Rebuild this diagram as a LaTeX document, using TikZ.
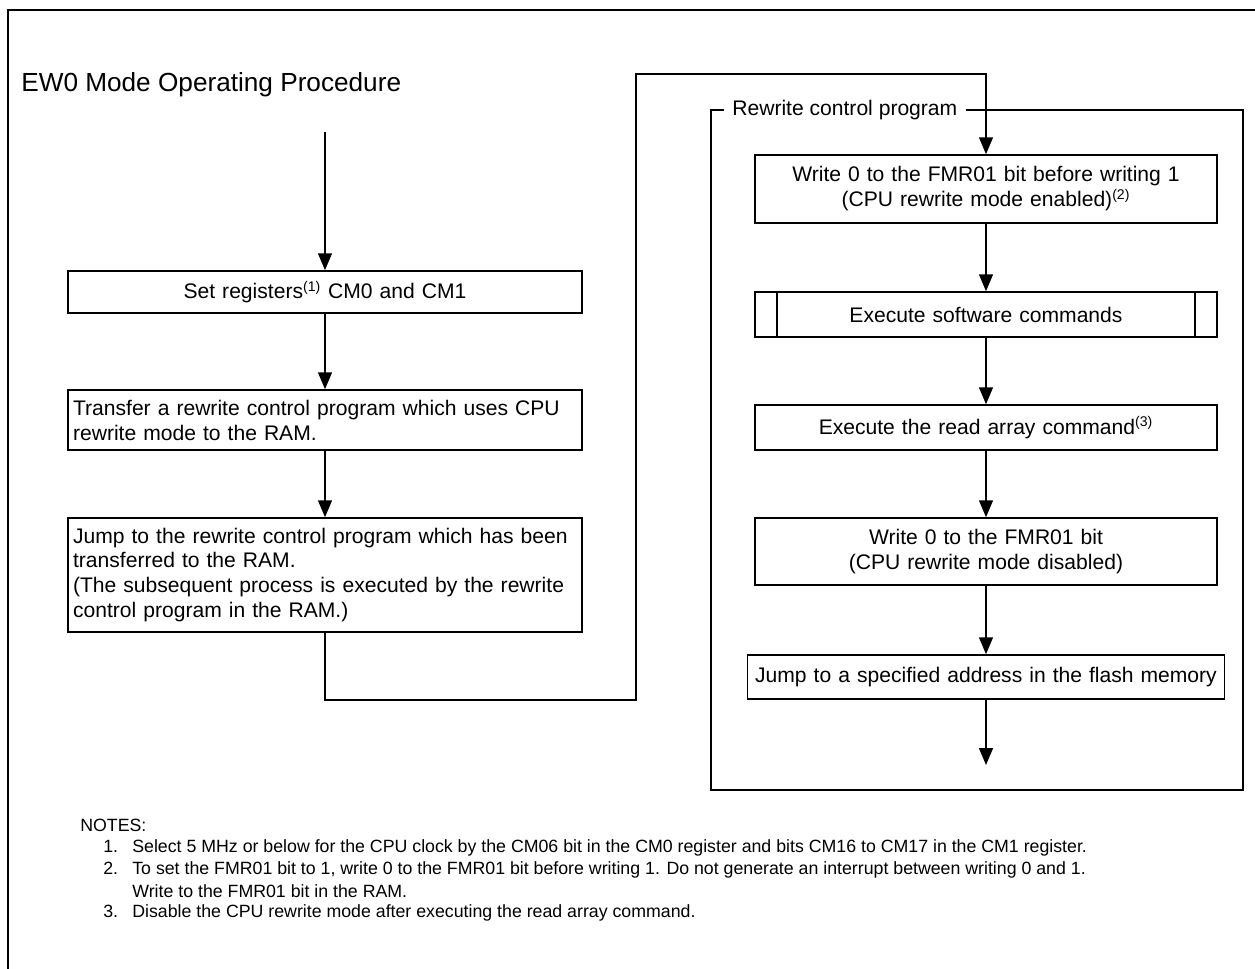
\documentclass[tikz,border=0pt]{standalone}
\usepackage{fontspec}
\setmainfont{Liberation Sans}
\usetikzlibrary{arrows.meta,positioning}

\tikzset{
  flowbox/.style={draw,line width=0.9pt,inner xsep=0.1cm,inner ysep=0pt,
    font=\fontsize{12}{14.2}\selectfont},
  leftbox/.style={flowbox,minimum width=10.28cm,text width=10.08cm},
  rightbox/.style={flowbox,minimum width=9.24cm,text width=9.04cm,align=center},
  flow/.style={line width=0.9pt,-{Triangle[length=9.6pt,width=7.9pt]}},
  noteline/.style={anchor=west,inner sep=0,font=\fontsize{10.1}{12}\selectfont},
}

\begin{document}
\begin{tikzpicture}[x=0.02cm,y=-0.02cm]
  \useasboundingbox (0,0) rectangle (1255,969);
  \draw[line width=1.7pt] (8,969) -- (8,10) -- (1255,10);

  \node[anchor=west,inner sep=0,font=\fontsize{14.9}{17}\selectfont] (title) at (21,85)
    {EW0 Mode Operating Procedure};

  % left column
  \node[leftbox,align=center,minimum height=0.84cm] (setreg) at (325,292)
    {Set registers\textsuperscript{(1)} CM0 and CM1};
  \node[leftbox,align=left,minimum height=1.2cm] (xfer) at (325,420)
    {Transfer a rewrite control program which uses CPU\\ rewrite mode to the RAM.};
  \node[leftbox,align=left,minimum height=2.28cm] (jumpram) at (325,575)
    {Jump to the rewrite control program which has been\\ transferred to the RAM.\\
     (The subsequent process is executed by the rewrite\\ control program in the RAM.)};

  % rewrite control program
  \node[anchor=west,inner xsep=0.16cm,font=\fontsize{12}{14}\selectfont] (grplabel) at (724,110)
    {Rewrite control program};
  \draw[line width=0.9pt] (grplabel.east) -- (1243,110) -- (1243,790) -- (711,790)
    -- (711,110) -- (grplabel.west);

  \node[rightbox,minimum height=1.36cm] (fmron) at (986,189)
    {Write 0 to the FMR01 bit before writing 1\\ (CPU rewrite mode enabled)\textsuperscript{(2)}};
  \node[rightbox,minimum height=0.9cm] (swcmd) at (986,314.5) {Execute software commands};
  \draw[line width=0.9pt] ([xshift=0.46cm]swcmd.north west) -- ([xshift=0.46cm]swcmd.south west)
    ([xshift=-0.46cm]swcmd.north east) -- ([xshift=-0.46cm]swcmd.south east);
  \node[rightbox,minimum height=0.9cm] (readarr) at (986,427.5)
    {Execute the read array command\textsuperscript{(3)}};
  \node[rightbox,minimum height=1.34cm] (fmroff) at (986,551.5)
    {Write 0 to the FMR01 bit\\ (CPU rewrite mode disabled)};
  \node[rightbox,minimum width=9.54cm,text width=9.34cm,minimum height=0.88cm] (jumpflash)
    at (986,677) {Jump to a specified address in the flash memory};

  % connectors
  \coordinate (start) at (325,132);
  \coordinate (loopbl) at (325,700);
  \coordinate (loopbr) at (636,700);
  \coordinate (looptr) at (636,74);
  \coordinate (finish) at (986,765);
  \draw[flow] (start) -- (setreg);
  \draw[flow] (setreg) -- (xfer);
  \draw[flow] (xfer) -- (jumpram);
  \draw[flow] (jumpram.south) -- (loopbl) -- (loopbr) -- (looptr) -| (fmron.north);
  \draw[flow] (fmron) -- (swcmd);
  \draw[flow] (swcmd) -- (readarr);
  \draw[flow] (readarr) -- (fmroff);
  \draw[flow] (fmroff) -- (jumpflash);
  \draw[flow] (jumpflash) -- (finish);

  % notes
  \node[noteline] (nohead) at (80,825) {NOTES:};
  \node[noteline] (notea) at (103,848) {\makebox[0.58cm][l]{1.}Select 5 MHz or below for the CPU clock by the CM06 bit in the CM0 register and bits CM16 to CM17 in the CM1 register.};
  \node[noteline] (noteb) at (103,870) {\makebox[0.58cm][l]{2.}To set the FMR01 bit to 1, write 0 to the FMR01 bit before writing 1. Do not generate an interrupt between writing 0 and 1.};
  \node[noteline] (notebb) at (132,891) {Write to the FMR01 bit in the RAM.};
  \node[noteline] (notec) at (103,913) {\makebox[0.58cm][l]{3.}Disable the CPU rewrite mode after executing the read array command.};
\end{tikzpicture}
\end{document}
